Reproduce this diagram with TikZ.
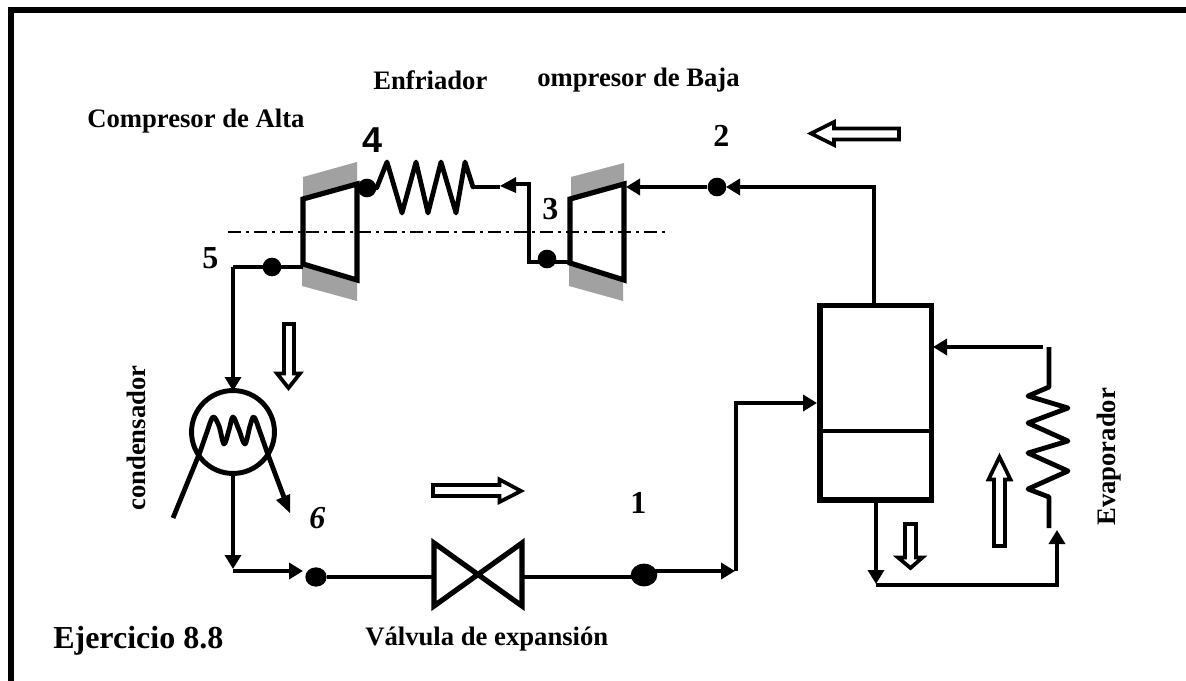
\documentclass[tikz,border=0pt]{standalone}
\usepackage{fontspec}
\setmainfont{Liberation Serif}
\newfontfamily\digitsans{Liberation Sans}
\usetikzlibrary{arrows.meta,shapes.geometric}
\tikzset{
  pipe/.style={line width=3.3pt,line join=miter,black},
  thin pipe/.style={line width=2.8pt,line join=miter,black},
  flow/.style={-{Triangle[length=10.5pt,width=12pt]}},
  coil/.style={line width=3.6pt,line join=round,line cap=round,black},
  unit/.style={line width=3.9pt,line join=miter,line cap=round,black},
  casing/.style={fill=black!37,draw=none},
  hollow/.style={draw=black,fill=white,line width=2.8pt,line join=miter},
  statept/.style={ellipse,fill=black,draw=none,inner sep=0pt,minimum width=14pt,minimum height=14pt},
  txt/.style={inner sep=0pt,anchor=base west,font=\fontsize{20pt}{24pt}\selectfont\bfseries},
  digit/.style={inner sep=0pt,anchor=base west,font=\fontsize{24pt}{28pt}\selectfont\bfseries},
}
\begin{document}
\begin{tikzpicture}[x=0.75pt,y=-0.75pt]
\useasboundingbox (0,0) rectangle (1186,681);
% frame
\draw[line width=4.6pt,black] (11,681) -- (11,10) -- (1186,10);
% coordinates
\coordinate (hpIn) at (357,187);
\coordinate (hpOut) at (303,267);
\coordinate (lpIn) at (626,187);
\coordinate (lpOut) at (570,262);
\coordinate (bendFive) at (233,267);
\coordinate (condTop) at (233,391);
\coordinate (condBot) at (233,473);
\coordinate (condLow) at (233,569);
\coordinate (condRun) at (233,571);
\coordinate (sixIn) at (303,571);
\coordinate (coolEnd) at (473,187);
\coordinate (coolArrow) at (500,187);
\coordinate (bendTop) at (529,184);
\coordinate (bendLow) at (529,262);
\coordinate (arrowBack) at (510,184);
\coordinate (twoOut) at (726,187);
\coordinate (sepTopBend) at (874,187);
\coordinate (sepTop) at (874,305);
\coordinate (sepBot) at (876,500);
\coordinate (sepLow) at (876,584);
\coordinate (sepRun) at (876,585);
\coordinate (evapCorner) at (1057,585);
\coordinate (evapIn) at (1057,530);
\coordinate (evapOut) at (1043,347);
\coordinate (sepRet) at (933,347);
\coordinate (oneOut) at (735,571);
\coordinate (oneStart) at (650,571);
\coordinate (riser) at (736,571);
\coordinate (riserTop) at (736,403);
\coordinate (sepIn) at (817,403);
\coordinate (valveL) at (434,577);
\coordinate (valveR) at (522,577);
% compressor casings
\fill[casing] (303,177) -- (357,162) -- (357,184) -- (303,199) -- cycle;
\fill[casing] (302,265) -- (357,280) -- (357,301) -- (302,286) -- cycle;
\fill[casing] (571,177) -- (624,163) -- (624,184) -- (571,199) -- cycle;
\fill[casing] (569,265) -- (623,280) -- (623,301) -- (569,286) -- cycle;
% shaft
\draw[line width=1.3pt,dash pattern=on 10pt off 3.5pt on 2.5pt off 3.5pt] (228,232) -- (670,232);
% compressors
\draw[unit] (303,199) -- (357,184) -- (357,280) -- (303,264) -- cycle;
\draw[unit] (570,199) -- (624,184) -- (624,280) -- (570,263) -- cycle;
% state points
\node[statept] (p2) at (717,187) {};
\node[statept] (p3) at (547,259) {};
\node[statept] (p4) at (367,188) {};
\node[statept] (p5) at (272,267) {};
\node[statept,minimum width=16pt,minimum height=14.5pt] (p6) at (316,577) {};
\node[statept,minimum width=20pt,minimum height=17pt] (p1) at (644,575) {};
% top line
\draw[thin pipe,flow] (sepTop) -- (sepTopBend) -- (twoOut);
\draw[thin pipe,flow] (p2) -- (lpIn);
\draw[thin pipe] (lpOut) -- (bendLow) -- (bendTop) -- (arrowBack);
\fill (500,186) -- (516,177) -- (516,193) -- cycle;
\draw[coil] (p4.east) -- (387,162) -- (402,213) -- (416,162) -- (428,213) -- (441,162) -- (456,213) -- (465,162) -- (coolEnd);
\draw[pipe] (coolEnd) -- (coolArrow);
\draw[thin pipe] (hpOut) -- (bendFive);
\draw[thin pipe,flow] (bendFive) -- (condTop);
% condenser
\node[circle,draw=black,line width=3.7pt,minimum size=62.2pt,inner sep=0pt] (cond) at (233,432) {};
\draw[coil,line cap=butt] (173,518) -- (200,452);
\draw[coil] plot[smooth,tension=0.55] coordinates {(200,452) (207,432) (213,417) (219,426) (224,444) (229,430) (233,417) (239,430) (245,444) (250,426) (254,417) (260,432) (267,452)};
\draw[coil,line cap=butt] (267,452) -- (285,500);
\fill (290,513) -- (276,500) -- (290,494) -- cycle;
\draw[pipe,flow] (condBot) -- (condLow);
\draw[pipe,flow] (condRun) -- (sixIn);
% valve and bottom line
\draw[pipe] (p6) -- (valveL);
\draw[unit] (434,543) -- (522,606) -- (522,543) -- (434,606) -- cycle;
\draw[pipe] (valveR) -- (p1 |- valveR);
\draw[pipe,flow] (oneStart) -- (oneOut);
\draw[pipe,flow] (riser) -- (riserTop) -- (sepIn);
% separator
\node[draw=black,line width=3.8pt,inner sep=0pt,minimum width=83.6pt,minimum height=146.2pt] (sep) at (875.7,402.5) {};
\draw[line width=3.4pt] (sep.west |- 0,431) -- (sep.east |- 0,431);
\draw[pipe,flow] (sepBot) -- (sepLow);
\draw[pipe,flow] (sepRun) -- (evapCorner) -- (evapIn);
\draw[pipe,flow] (evapOut) -- (sepRet);
% evaporator
\draw[coil,line cap=butt] (1049,347) -- (1049,387) -- (1028,396) -- (1068,408) -- (1028,423) -- (1068,441) -- (1028,453) -- (1068,471) -- (1028,489) -- (1049,497) -- (1049,528);
% hollow flow arrows
\draw[hollow] (899,128.5) -- (834,128.5) -- (834,122) -- (811,133.5) -- (834,145) -- (834,139.5) -- (899,139.5) -- cycle;
\draw[hollow] (284,324) -- (294,324) -- (294,373.5) -- (300,373.5) -- (288.5,388) -- (277,373.5) -- (284,373.5) -- cycle;
\draw[hollow] (433,485) -- (499.5,485) -- (499.5,479.5) -- (521,491) -- (499.5,502) -- (499.5,496) -- (433,496) -- cycle;
\draw[hollow] (905,524) -- (916,524) -- (916,557.5) -- (922.5,557.5) -- (910.5,568) -- (898,557.5) -- (905,557.5) -- cycle;
\draw[hollow] (994,546) -- (1005,546) -- (1005,479.5) -- (1010.5,479.5) -- (999.5,457) -- (988.5,479.5) -- (994,479.5) -- cycle;
% labels
\node[txt] (lblAlta) at (87,128) {Compresor de Alta};
\node[txt] (lblEnf) at (373,90) {Enfriador};
\node[txt] (lblBaja) at (537,87) {ompresor de Baja};
\node[txt] (lblValv) at (365,645) {Válvula de expansión};
\node[txt,rotate=90] (lblCond) at (145,511) {condensador};
\node[txt,rotate=90] (lblEvap) at (1115,526) {Evaporador};
\node[digit] (lblEj) at (53,648) {Ejercicio 8.8};
\node[digit] (n1) at (630,513) {1};
\node[digit] (n2) at (713,147) {2};
\node[digit] (n3) at (542,220) {3};
\node[digit,font=\fontsize{27pt}{30pt}\selectfont\bfseries\digitsans] (n4) at (362,153) {4};
\node[digit] (n5) at (202,268) {5};
\node[digit,font=\fontsize{24pt}{28pt}\selectfont\bfseries\itshape] (n6) at (309,528) {6};
\end{tikzpicture}
\end{document}
